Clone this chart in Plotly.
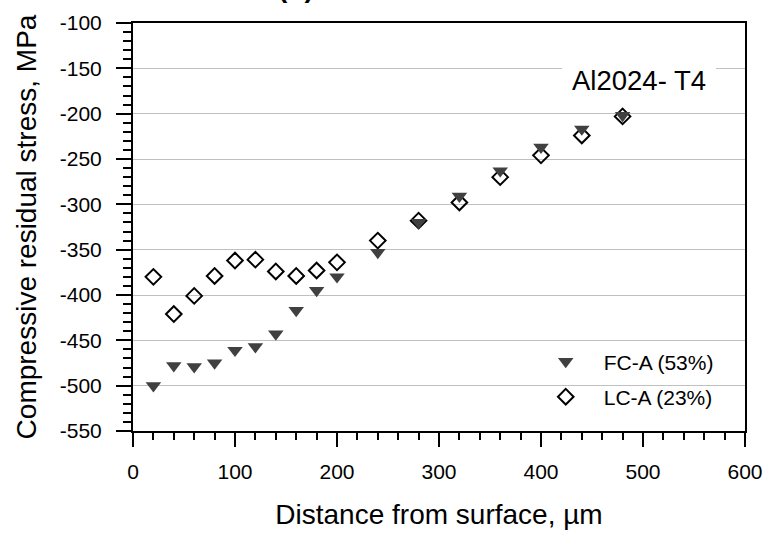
import plotly.graph_objects as go

distance = [20, 40, 60, 80, 100, 120, 140, 160, 180, 200, 240, 280, 320, 360, 400, 440, 480]
fc_a = [-500, -478, -479, -475, -461, -457, -443, -417, -395, -380, -353, -320, -291, -263, -237, -217, -202]
lc_a = [-380, -421, -401, -379, -362, -361, -374, -379, -373, -364, -340, -318, -298, -270, -246, -224, -203]
x_ticks = [0, 100, 200, 300, 400, 500, 600]
y_ticks = [-550, -500, -450, -400, -350, -300, -250, -200, -150, -100]
x_tick_labels = [str(v) for v in x_ticks]
y_tick_labels = [str(v) for v in y_ticks]

FONT = "Arial, 'Liberation Sans', sans-serif"

fig = go.Figure()
fig.add_trace(go.Scatter(
    x=distance, y=lc_a, mode="markers", name="LC-A (23%)", legendgroup="lc", legendrank=2,
    marker=dict(symbol="diamond-open", size=12, color="black", line=dict(width=2, color="black")),
))
fig.add_trace(go.Scatter(
    x=distance, y=fc_a, mode="markers", name="FC-A (53%)", legendgroup="fc", legendrank=1,
    marker=dict(symbol="triangle-down", size=13.5, color="#404040", line=dict(width=0)),
))

fig.update_layout(
    width=769, height=536,
    margin=dict(l=133, r=24, t=23, b=105),
    paper_bgcolor="white", plot_bgcolor="white",
    font=dict(family=FONT, size=21, color="black"),
    showlegend=True,
    legend=dict(
        x=0.645, y=0.22, xanchor="left", yanchor="top",
        bgcolor="rgba(0,0,0,0)", borderwidth=0,
        traceorder="grouped", tracegroupgap=5, itemwidth=66,
        font=dict(family=FONT, size=21, color="black"),
    ),
    shapes=[dict(
        type="rect", xref="paper", yref="paper", x0=0.641, x1=1.0, y0=0.05, y1=0.235,
        fillcolor="white", line=dict(width=0), layer="between",
    )],
    annotations=[
        dict(
            text="Al2024- T4", xref="paper", yref="paper", x=0.8275, y=0.86,
            xanchor="center", yanchor="middle", showarrow=False,
            font=dict(family=FONT, size=27.5, color="black"),
            bgcolor="white", borderpad=10, borderwidth=0,
        ),
        dict(
            text="<b>(b)</b>", xref="paper", yref="paper", x=0.266, y=1.043,
            xanchor="center", yanchor="bottom", showarrow=False,
            font=dict(family=FONT, size=28, color="black"),
        ),
    ],
)

fig.update_xaxes(
    range=[0, 600], tickmode="array", tickvals=x_ticks, ticktext=x_tick_labels,
    ticks="outside", ticklen=14, tickwidth=2, tickcolor="black", ticklabelstandoff=7,
    showline=True, linewidth=2, linecolor="black", mirror=True,
    showgrid=False, zeroline=False, automargin=False,
    minor=dict(dtick=20, tick0=0, ticks="outside", ticklen=7, tickwidth=2, tickcolor="black", showgrid=False),
    tickfont=dict(family=FONT, size=21, color="black"),
    title=dict(text="Distance from surface, µm", font=dict(family=FONT, size=28, color="black"), standoff=22),
)
fig.update_yaxes(
    range=[-550, -100], tickmode="array", tickvals=y_ticks, ticktext=y_tick_labels,
    ticks="outside", ticklen=15, tickwidth=2, tickcolor="black", ticklabelstandoff=10,
    showline=True, linewidth=2, linecolor="black", mirror=True,
    showgrid=True, gridcolor="#c0c0c0", gridwidth=1, zeroline=False, automargin=False,
    minor=dict(dtick=10, tick0=0, ticks="outside", ticklen=8, tickwidth=2, tickcolor="black", showgrid=False),
    tickfont=dict(family=FONT, size=21, color="black"),
    title=dict(text="Compressive residual stress, MPa", font=dict(family=FONT, size=28, color="black"), standoff=15),
)

fig.write_html(
    "out.html",
    config={"displayModeBar": False},
    post_script="document.body.style.margin='0';document.body.style.overflow='hidden';",
)
